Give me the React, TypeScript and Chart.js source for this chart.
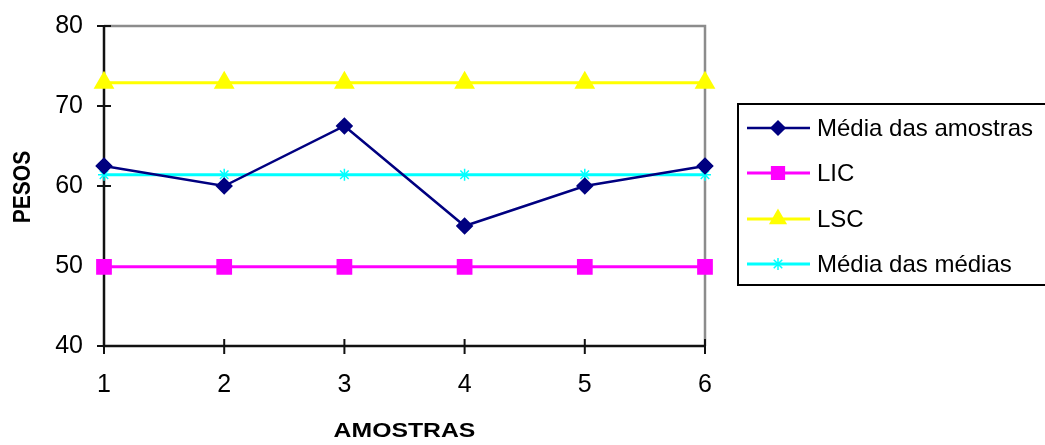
import React, { useEffect, useRef } from "react";
import { Chart, registerables } from "chart.js";
import { drawPoint } from "chart.js/helpers";

Chart.register(...registerables);

// Control chart data: sample means and the control limits
const amostras = ["1", "2", "3", "4", "5", "6"];
const mediaAmostras = [62.5, 60, 67.5, 55, 60, 62.5];
const lic = [49.9, 49.9, 49.9, 49.9, 49.9, 49.9];
const lsc = [72.9, 72.9, 72.9, 72.9, 72.9, 72.9];
const mediaMedias = [61.4, 61.4, 61.4, 61.4, 61.4, 61.4];
const yTicks = [40, 50, 60, 70, 80];

const FONT = "'Liberation Sans', Arial, sans-serif";

// Excel-style frame, crossing tick marks, axis titles and a boxed legend
const framePlugin = {
  id: "excelFrame",
  beforeDatasetsDraw(chart: any) {
    const { ctx, chartArea: a, scales } = chart;
    const xs = scales.x;
    const ys = scales.y;
    ctx.save();
    // grey plot border (top and right)
    ctx.strokeStyle = "#8c8c8c";
    ctx.lineWidth = 2.5;
    ctx.beginPath();
    ctx.moveTo(a.left, a.top);
    ctx.lineTo(a.right, a.top);
    ctx.lineTo(a.right, a.bottom);
    ctx.stroke();
    // black axes
    ctx.strokeStyle = "#111";
    ctx.lineWidth = 2.5;
    ctx.beginPath();
    ctx.moveTo(a.left, a.top);
    ctx.lineTo(a.left, a.bottom);
    ctx.lineTo(a.right, a.bottom);
    ctx.stroke();
    // crossing tick marks
    ctx.lineWidth = 2;
    ctx.beginPath();
    yTicks.forEach((v) => {
      const y = ys.getPixelForValue(v);
      ctx.moveTo(a.left - 7, y);
      ctx.lineTo(a.left + 7, y);
    });
    amostras.forEach((_, i) => {
      const x = xs.getPixelForValue(i);
      ctx.moveTo(x, a.bottom - 7);
      ctx.lineTo(x, a.bottom + 8);
    });
    ctx.stroke();
    ctx.restore();
  },
  afterDraw(chart: any) {
    const { ctx, chartArea: a } = chart;
    ctx.save();
    ctx.fillStyle = "#000";
    ctx.font = `bold 21px ${FONT}`;
    ctx.textAlign = "center";
    ctx.textBaseline = "middle";
    // y axis title
    ctx.save();
    ctx.translate(23, (a.top + a.bottom) / 2 + 1);
    ctx.rotate(-Math.PI / 2);
    ctx.scale(1, 1.18);
    ctx.fillText("PESOS", 0, 0);
    ctx.restore();
    // x axis title
    ctx.save();
    ctx.translate((a.left + a.right) / 2, 431);
    ctx.scale(1.18, 1);
    ctx.fillText("AMOSTRAS", 0, 0);
    ctx.restore();

    // legend box
    const lx = 738;
    const ly = 104;
    const lh = 181;
    ctx.strokeStyle = "#000";
    ctx.lineWidth = 2;
    ctx.strokeRect(lx, ly, 400, lh);
    const rowY = [128, 173, 219, 264];
    ctx.font = `24px ${FONT}`;
    ctx.textAlign = "left";
    chart.data.datasets.forEach((ds: any, i: number) => {
      const y = rowY[i];
      ctx.strokeStyle = ds.borderColor;
      ctx.lineWidth = ds.borderWidth;
      ctx.beginPath();
      ctx.moveTo(747, y);
      ctx.lineTo(810, y);
      ctx.stroke();
      ctx.fillStyle = ds.pointBackgroundColor;
      ctx.strokeStyle = ds.pointBorderColor;
      ctx.lineWidth = 1.5;
      drawPoint(ctx, { pointStyle: ds.pointStyle, radius: ds.pointRadius, rotation: 0, borderWidth: 1.5 }, 778, y);
      ctx.fillStyle = "#000";
      ctx.fillText(ds.label, 817, y + 1);
    });
    ctx.restore();
  },
};

export default function App() {
  const ref = useRef<HTMLCanvasElement | null>(null);

  useEffect(() => {
    if (!ref.current) return;
    const chart = new Chart(ref.current, {
      type: "line",
      data: {
        labels: amostras,
        datasets: [
          {
            label: "Média das amostras",
            data: mediaAmostras,
            borderColor: "#000080",
            backgroundColor: "#000080",
            pointBackgroundColor: "#000080",
            pointBorderColor: "#000080",
            borderWidth: 2.5,
            pointStyle: "rectRot",
            pointRadius: 7,
          },
          {
            label: "LIC",
            data: lic,
            borderColor: "#ff00ff",
            backgroundColor: "#ff00ff",
            pointBackgroundColor: "#ff00ff",
            pointBorderColor: "#ff00ff",
            borderWidth: 3,
            pointStyle: "rect",
            pointRadius: 9,
          },
          {
            label: "LSC",
            data: lsc,
            borderColor: "#ffff00",
            backgroundColor: "#ffff00",
            pointBackgroundColor: "#ffff00",
            pointBorderColor: "#ffff00",
            borderWidth: 3,
            pointStyle: "triangle",
            pointRadius: 9,
          },
          {
            label: "Média das médias",
            data: mediaMedias,
            borderColor: "#00ffff",
            backgroundColor: "#00ffff",
            pointBackgroundColor: "#00ffff",
            pointBorderColor: "#00ffff",
            borderWidth: 3,
            pointStyle: "star",
            pointRadius: 6,
            pointBorderWidth: 1.5,
          },
        ],
      },
      options: {
        responsive: false,
        animation: false,
        layout: { padding: { top: 26, right: 340, bottom: 0, left: 0 } },
        plugins: {
          legend: { display: false },
          tooltip: { enabled: false },
        },
        elements: { line: { tension: 0 } },
        scales: {
          x: {
            type: "category",
            offset: false,
            grid: { display: false, drawTicks: false },
            border: { display: false },
            ticks: {
              color: "#000",
              font: { family: FONT, size: 25 },
              padding: 24,
              maxRotation: 0,
            },
            afterFit(scale: any) {
              scale.height = 99;
              scale.paddingLeft = 0;
              scale.paddingRight = 0;
            },
          },
          y: {
            min: 40,
            max: 80,
            grid: { display: false, drawTicks: false },
            border: { display: false },
            ticks: {
              stepSize: 10,
              color: "#000",
              font: { family: FONT, size: 25 },
              padding: 21,
            },
            afterFit(scale: any) {
              scale.width = 104;
              scale.paddingTop = 0;
              scale.paddingBottom = 0;
            },
          },
        },
      },
      plugins: [framePlugin],
    });
    return () => chart.destroy();
  }, []);

  return (
    <div style={{ position: "absolute", left: 0, top: 0, width: 1045, height: 445, background: "#fff" }}>
      <canvas ref={ref} width={1045} height={445} />
    </div>
  );
}
